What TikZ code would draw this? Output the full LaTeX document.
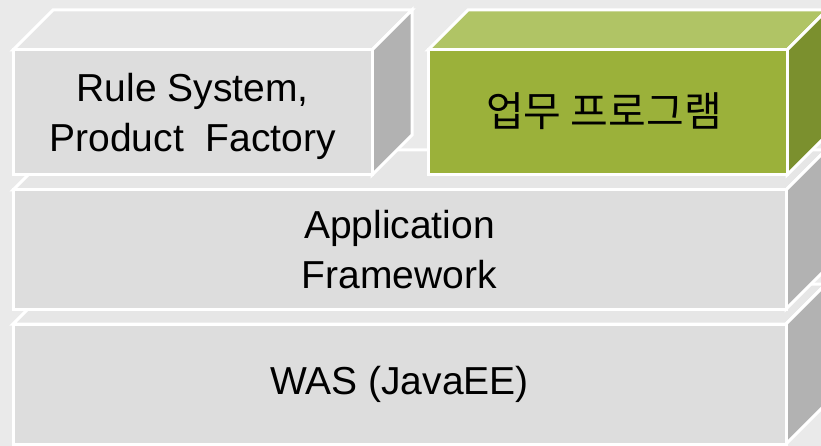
\documentclass[tikz,border=0pt]{standalone}
\usepackage{fontspec}
\setmainfont{Liberation Sans}
\newfontfamily\kofont{Noto Sans CJK KR}
\usepackage{tikz}
\usetikzlibrary{calc}

\definecolor{bgray}{RGB}{234,234,234}
\definecolor{frontgray}{RGB}{221,221,221}
\definecolor{topgray}{RGB}{230,230,230}
\definecolor{sidegray}{RGB}{178,178,178}
\definecolor{frontgreen}{RGB}{155,177,58}
\definecolor{topgreen}{RGB}{176,196,101}
\definecolor{sidegreen}{RGB}{123,144,46}

\tikzset{
  edge/.style={draw=white, line width=3pt, line join=miter},
  label/.style={align=center, font=\fontsize{39}{50}\selectfont, text=black}
}

% block with front face (#1)-(#2), depth 40, colours front/top/side
\newcommand{\layerblock}[5]{%
  \filldraw[edge, fill=#4] ($(#1)+(0,0)$) -- ($(#1)+(40,-40)$) -- ($(#2 |- #1)+(40,-40)$) -- (#2 |- #1) -- cycle;
  \filldraw[edge, fill=#5] (#2 |- #1) -- ($(#2 |- #1)+(40,-40)$) -- ($(#2)+(40,-40)$) -- (#2) -- cycle;
  \filldraw[edge, fill=#3] (#1) rectangle (#2);
}

\begin{document}
\begin{tikzpicture}[x=1pt,y=-1pt]
  % Background
  \fill[bgray] (0,0) rectangle (821,446);
  \useasboundingbox (0,0) rectangle (821,446);

  % Bottom layer
  \layerblock{13,324}{786,444}{frontgray}{topgray}{sidegray}
  \node[label] (was) at (399.5,384) {WAS (JavaEE)};

  % Middle layer
  \layerblock{13,190}{786,309}{frontgray}{topgray}{sidegray}
  \node[label] (appfw) at (399.5,250) {Application\\Framework};

  % Top layer, left block
  \layerblock{13,50}{372,175}{frontgray}{topgray}{sidegray}
  \node[label] (rules) at (192.5,116) {Rule System,\\Product~~Factory};

  % Top layer, right block
  \layerblock{428,50}{787,175}{frontgreen}{topgreen}{sidegreen}
  \node[label, font=\kofont\fontsize{41}{50}\selectfont] (biz) at (604,111) {업무 프로그램};
\end{tikzpicture}
\end{document}
